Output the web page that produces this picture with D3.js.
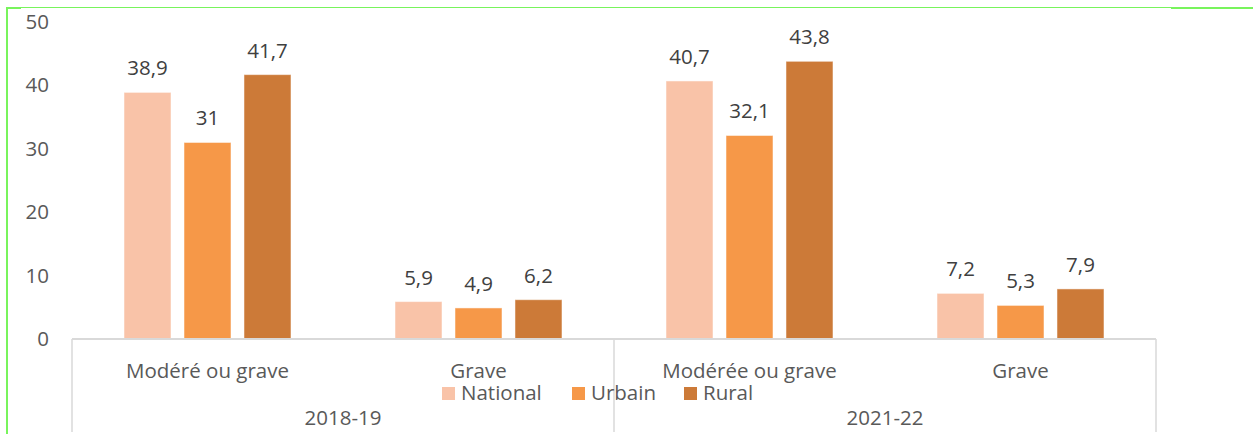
<!DOCTYPE html>
<html>
<head>
<meta charset="utf-8">
<script src="https://cdn.jsdelivr.net/npm/d3@7"></script>
<style>
  html, body { margin: 0; padding: 0; background: #fff; }
  svg { display: block; font-family: "Open Sans", "Noto Sans", sans-serif; }
</style>
</head>
<body>
<svg id="chart" width="1253" height="434"></svg>
<script>
// Periods (outer axis level) and indicator categories (inner axis level)
const periods = ["2018-19", "2021-22"];
const categories = ["Modéré ou grave", "Grave", "Modérée ou grave", "Grave"];
const categoryPeriod = [0, 0, 1, 1];

// Series
const seriesNames = ["National", "Urbain", "Rural"];
const national = [38.9, 5.9, 40.7, 7.2];
const urbain = [31, 4.9, 32.1, 5.3];
const rural = [41.7, 6.2, 43.8, 7.9];

const yTicks = [0, 10, 20, 30, 40, 50];
const colors = ["#F9C3A8", "#F69848", "#CC7A38"];

const seriesValues = [national, urbain, rural];

const svg = d3.select("#chart");
const W = 1253, H = 434;

// Frame lines
const green = "#78F45C";
svg.append("line").attr("x1", 7).attr("x2", 7).attr("y1", 7).attr("y2", H)
  .attr("stroke", green).attr("stroke-width", 2);
svg.append("line").attr("x1", 6).attr("x2", 1171).attr("y1", 7.5).attr("y2", 7.5)
  .attr("stroke", green).attr("stroke-width", 1);
svg.append("line").attr("x1", 6).attr("x2", 21).attr("y1", 8).attr("y2", 8)
  .attr("stroke", green).attr("stroke-width", 2);
svg.append("line").attr("x1", 1171).attr("x2", W).attr("y1", 8).attr("y2", 8)
  .attr("stroke", green).attr("stroke-width", 2);

const plotLeft = 72, plotRight = 1156, plotTop = 22, plotBottom = 339;

const y = d3.scaleLinear().domain([0, 50]).range([plotBottom, plotTop]);
const x = d3.scaleBand().domain(d3.range(categories.length)).range([plotLeft, plotRight])
  .paddingInner(0).paddingOuter(0);
const xs = d3.scaleBand().domain(seriesNames).range([0, x.bandwidth()])
  .paddingInner(13 / 60).paddingOuter(0.867);

const textGray = "#595959";
const labelGray = "#404040";
const fontSize = 20.5;

// Y axis tick labels
const yAxis = d3.axisLeft(y).tickValues(yTicks).tickSize(0).tickPadding(0)
  .tickFormat(d3.format("d"));
const gy = svg.append("g").attr("transform", "translate(49,0)").call(yAxis);
gy.select(".domain").remove();
gy.selectAll("text").attr("fill", textGray).style("font-size", fontSize + "px")
  .style("font-family", "'Open Sans', sans-serif");

// Bars
const fmt = v => String(v).replace(".", ",");
const gBars = svg.append("g");
seriesNames.forEach((s, si) => {
  const vals = seriesValues[si];
  gBars.selectAll(null).data(vals).enter().append("rect")
    .attr("x", (d, i) => x(i) + xs(s))
    .attr("y", d => y(d))
    .attr("width", xs.bandwidth())
    .attr("height", d => y(0) - y(d))
    .attr("fill", colors[si])
    .attr("stroke", "#fff").attr("stroke-opacity", 0.5).attr("stroke-width", 1);
  gBars.selectAll(null).data(vals).enter().append("text")
    .attr("x", (d, i) => x(i) + xs(s) + xs.bandwidth() / 2)
    .attr("y", d => y(d) - 17)
    .attr("text-anchor", "middle")
    .attr("fill", labelGray)
    .style("font-size", fontSize + "px")
    .text(d => fmt(d));
});

// Category axis line and period separators
const axisGray = "#D9D9D9";
svg.append("line").attr("x1", plotLeft).attr("x2", plotRight).attr("y1", plotBottom).attr("y2", plotBottom)
  .attr("stroke", axisGray).attr("stroke-width", 2);
const seps = [plotLeft, x(2), plotRight];
svg.selectAll(null).data(seps).enter().append("line")
  .attr("x1", d => d).attr("x2", d => d).attr("y1", plotBottom).attr("y2", 432)
  .attr("stroke", axisGray).attr("stroke-width", 1.5);

// Category labels
svg.selectAll(null).data(categories).enter().append("text")
  .attr("x", (d, i) => x(i) + x.bandwidth() / 2)
  .attr("y", 378)
  .attr("text-anchor", "middle")
  .attr("fill", textGray)
  .style("font-size", fontSize + "px")
  .text(d => d);

// Period labels
periods.forEach((p, pi) => {
  const idx = categoryPeriod.map((c, i) => c === pi ? i : -1).filter(i => i >= 0);
  const x0 = x(idx[0]), x1 = x(idx[idx.length - 1]) + x.bandwidth();
  svg.append("text")
    .attr("x", (x0 + x1) / 2).attr("y", 425)
    .attr("text-anchor", "middle").attr("fill", textGray)
    .style("font-size", fontSize + "px")
    .text(p);
});

// Legend
const legendX = [442, 572, 684];
const lg = svg.append("g");
seriesNames.forEach((s, si) => {
  lg.append("rect").attr("x", legendX[si]).attr("y", 387).attr("width", 13).attr("height", 13)
    .attr("fill", colors[si]);
  lg.append("text").attr("x", legendX[si] + 19).attr("y", 400)
    .attr("fill", textGray).style("font-size", fontSize + "px").text(s);
});
</script>
</body>
</html>
